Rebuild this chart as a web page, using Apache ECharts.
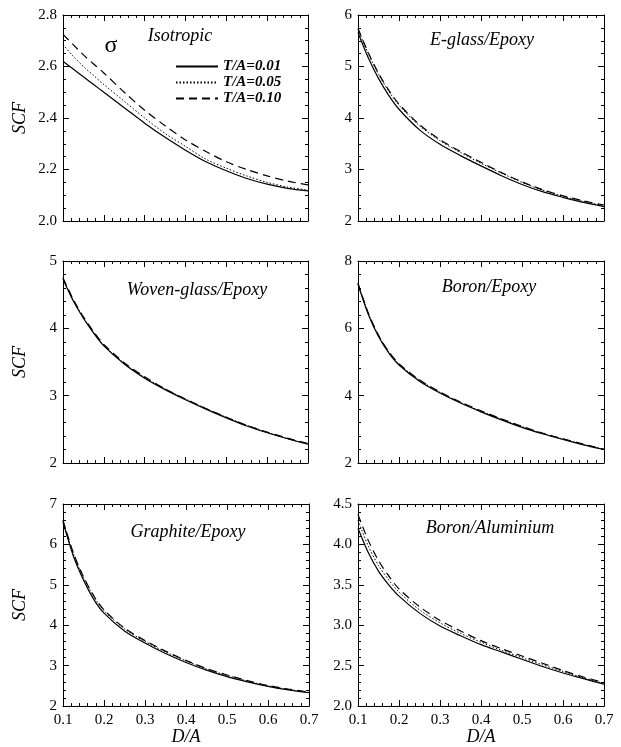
<!DOCTYPE html>
<html>
<head>
<meta charset="utf-8">
<script src="https://cdn.jsdelivr.net/npm/echarts@6/dist/echarts.min.js"></script>
<style>
html,body{margin:0;padding:0;background:#fff;}
#c{width:621px;height:747px;}
</style>
</head>
<body>
<div id="c"></div>
<script>
// ---- data ----
const DA = [0.1, 0.125, 0.15, 0.175, 0.2, 0.25, 0.3, 0.35, 0.4, 0.45, 0.5, 0.55, 0.6, 0.65, 0.7];
const seriesNames = ['T/A=0.01', 'T/A=0.05', 'T/A=0.10'];
const panelTitles = ['Isotropic', 'E-glass/Epoxy', 'Woven-glass/Epoxy', 'Boron/Epoxy', 'Graphite/Epoxy', 'Boron/Aluminium'];

const iso01 = [2.62, 2.59, 2.56, 2.53, 2.50, 2.44, 2.38, 2.325, 2.275, 2.23, 2.195, 2.165, 2.143, 2.127, 2.117];
const iso05 = [2.685, 2.64, 2.60, 2.565, 2.53, 2.465, 2.40, 2.34, 2.29, 2.24, 2.205, 2.175, 2.15, 2.132, 2.12];
const iso10 = [2.725, 2.685, 2.645, 2.61, 2.575, 2.50, 2.43, 2.37, 2.315, 2.27, 2.23, 2.20, 2.175, 2.155, 2.14];

const eg01 = [5.66, 5.17, 4.77, 4.44, 4.17, 3.77, 3.49, 3.27, 3.07, 2.88, 2.71, 2.57, 2.46, 2.36, 2.28];
const eg05 = [5.72, 5.25, 4.85, 4.52, 4.25, 3.85, 3.56, 3.33, 3.12, 2.93, 2.75, 2.60, 2.48, 2.38, 2.30];
const eg10 = [5.74, 5.27, 4.87, 4.54, 4.27, 3.87, 3.58, 3.35, 3.14, 2.94, 2.76, 2.61, 2.49, 2.39, 2.31];

const wg01 = [4.73, 4.41, 4.15, 3.93, 3.74, 3.47, 3.26, 3.09, 2.94, 2.80, 2.67, 2.55, 2.45, 2.36, 2.28];
const wg05 = [4.74, 4.42, 4.16, 3.94, 3.75, 3.48, 3.27, 3.10, 2.95, 2.81, 2.68, 2.56, 2.46, 2.36, 2.28];
const wg10 = [4.75, 4.43, 4.17, 3.95, 3.76, 3.49, 3.28, 3.10, 2.95, 2.81, 2.68, 2.56, 2.46, 2.37, 2.29];

const be01 = [7.31, 6.42, 5.76, 5.27, 4.91, 4.43, 4.08, 3.78, 3.52, 3.28, 3.06, 2.87, 2.70, 2.54, 2.40];
const be05 = [7.33, 6.45, 5.79, 5.30, 4.94, 4.46, 4.10, 3.80, 3.54, 3.30, 3.08, 2.88, 2.71, 2.55, 2.41];
const be10 = [7.34, 6.46, 5.80, 5.31, 4.95, 4.47, 4.11, 3.81, 3.55, 3.31, 3.09, 2.89, 2.72, 2.56, 2.41];

const ge01 = [6.55, 5.72, 5.12, 4.64, 4.30, 3.86, 3.56, 3.30, 3.08, 2.89, 2.73, 2.60, 2.49, 2.40, 2.33];
const ge05 = [6.58, 5.78, 5.18, 4.71, 4.36, 3.91, 3.60, 3.34, 3.12, 2.92, 2.76, 2.62, 2.50, 2.41, 2.34];
const ge10 = [6.60, 5.80, 5.20, 4.73, 4.38, 3.93, 3.62, 3.36, 3.13, 2.93, 2.77, 2.63, 2.51, 2.42, 2.35];

const ba01 = [4.20, 3.90, 3.67, 3.50, 3.36, 3.15, 2.99, 2.87, 2.76, 2.67, 2.58, 2.49, 2.41, 2.34, 2.27];
const ba05 = [4.30, 3.98, 3.74, 3.56, 3.41, 3.19, 3.03, 2.90, 2.79, 2.69, 2.60, 2.51, 2.43, 2.35, 2.28];
const ba10 = [4.37, 4.05, 3.80, 3.61, 3.45, 3.23, 3.06, 2.93, 2.81, 2.71, 2.62, 2.53, 2.44, 2.36, 2.29];

const yMins = [2.0, 2, 2, 2, 2, 2.0];
const yMaxs = [2.8, 6, 5, 8, 7, 4.5];
const yIntervals = [0.2, 1, 1, 2, 1, 0.5];
const yDecimals = [1, 0, 0, 0, 0, 1];
const yMinorSplits = [4, 4, 5, 5, 5, 5];
const xTickLabels = ['0.1', '0.2', '0.3', '0.4', '0.5', '0.6', '0.7'];

const panelData = [
  [iso01, iso05, iso10],
  [eg01, eg05, eg10],
  [wg01, wg05, wg10],
  [be01, be05, be10],
  [ge01, ge05, ge10],
  [ba01, ba05, ba10]
];

// ---- layout ----
const FONT = "'Liberation Serif', 'Times New Roman', serif";
const grids = [
  {left: 63, top: 15, width: 245, height: 206},
  {left: 358, top: 15, width: 246, height: 206},
  {left: 63, top: 261, width: 245, height: 202},
  {left: 358, top: 261, width: 246, height: 202},
  {left: 63, top: 504, width: 246, height: 204},
  {left: 358, top: 504, width: 246, height: 204}
];
const titlePos = [[180, 36], [482, 40], [197, 290], [489, 287], [188, 532], [490, 528]];
const lineStyles = [
  {type: 'solid', width: 1.2, color: '#000'},
  {type: [1.5, 2], width: 1, color: '#000'},
  {type: [8, 5], width: 1.2, color: '#000'}
];

const xAxes = [], yAxes = [], series = [], graphics = [];
grids.forEach((g, i) => {
  const bottomRow = i >= 4;
  const leftCol = i % 2 === 0;
  const common = {
    type: 'value', gridIndex: i, min: 0.1, max: 0.7, interval: 0.1,
    axisLine: {show: true, lineStyle: {color: '#000', width: 1}},
    axisTick: {show: true, inside: true, length: 6, lineStyle: {color: '#000'}},
    minorTick: {show: true, splitNumber: 5, length: 3, lineStyle: {color: '#000'}},
    splitLine: {show: false}
  };
  xAxes.push(Object.assign({}, common, {
    position: 'bottom',
    axisLabel: {show: bottomRow, margin: 6, color: '#000', fontFamily: FONT, fontSize: 15,
      formatter: v => xTickLabels[Math.round((v - 0.1) * 10)] || ''},
    name: bottomRow ? 'D/A' : '', nameLocation: 'middle', nameGap: 20,
    nameTextStyle: {color: '#000', fontFamily: FONT, fontStyle: 'italic', fontSize: 18}
  }));
  xAxes.push(Object.assign({}, common, {position: 'top', axisLabel: {show: false}}));

  const yCommon = {
    type: 'value', gridIndex: i, min: yMins[i], max: yMaxs[i], interval: yIntervals[i],
    axisLine: {show: true, lineStyle: {color: '#000', width: 1}},
    axisTick: {show: true, inside: true, length: 6, lineStyle: {color: '#000'}},
    minorTick: {show: true, splitNumber: yMinorSplits[i], length: 3, lineStyle: {color: '#000'}},
    splitLine: {show: false}
  };
  yAxes.push(Object.assign({}, yCommon, {
    position: 'left',
    axisLabel: {show: true, margin: 6, color: '#000', fontFamily: FONT, fontSize: 15,
      formatter: v => v.toFixed(yDecimals[i]), showMinLabel: true, showMaxLabel: true},
    name: leftCol ? 'SCF' : '', nameLocation: 'middle', nameGap: 34,
    nameTextStyle: {color: '#000', fontFamily: FONT, fontStyle: 'italic', fontSize: 18}
  }));
  yAxes.push(Object.assign({}, yCommon, {position: 'right', axisLabel: {show: false}}));

  panelData[i].forEach((vals, k) => {
    series.push({
      type: 'line', name: seriesNames[k], xAxisIndex: 2 * i, yAxisIndex: 2 * i,
      data: DA.map((x, j) => [x, vals[j]]),
      smooth: 0.3, symbol: 'none', showSymbol: false, silent: true,
      lineStyle: lineStyles[k], itemStyle: {color: '#000'}, z: 3 - k
    });
  });

  graphics.push({
    type: 'text', x: titlePos[i][0], y: titlePos[i][1],
    style: {text: panelTitles[i], fill: '#000', font: 'italic 18px ' + FONT,
      textAlign: 'center', textVerticalAlign: 'middle'}
  });
});
graphics.push({
  type: 'text', x: 111, y: 46,
  style: {text: 'σ', fill: '#000', font: '24px ' + FONT, textAlign: 'center', textVerticalAlign: 'middle'}
});

const chart = echarts.init(document.getElementById('c'), null, {renderer: 'canvas'});
chart.setOption({
  animation: false,
  backgroundColor: '#fff',
  grid: grids.map(g => Object.assign({containLabel: false, show: false}, g)),
  xAxis: xAxes,
  yAxis: yAxes,
  series: series,
  legend: {
    data: seriesNames, orient: 'vertical', left: 170, top: 54,
    itemWidth: 42, itemHeight: 12, itemGap: 1, selectedMode: false,
    itemStyle: {opacity: 0},
    textStyle: {color: '#000', fontFamily: FONT, fontStyle: 'italic', fontWeight: 'bold', fontSize: 15}
  },
  graphic: graphics
});
</script>
</body>
</html>
